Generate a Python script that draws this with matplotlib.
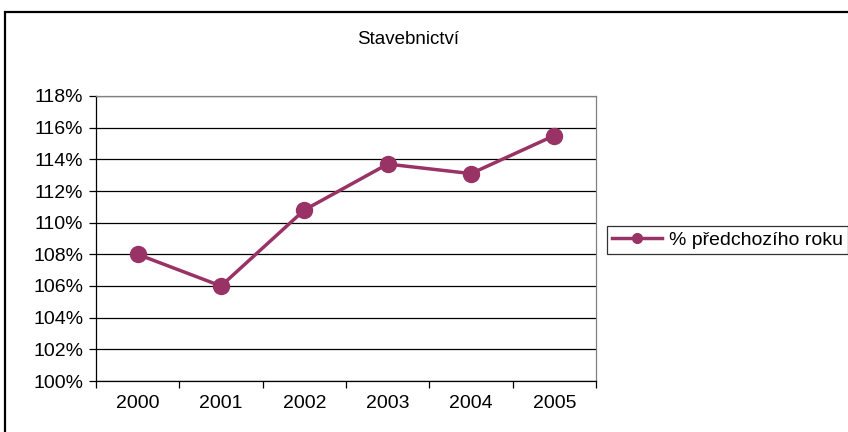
import matplotlib
matplotlib.use('Agg')
import matplotlib.pyplot as plt
from matplotlib.lines import Line2D
from matplotlib.patches import Rectangle

plt.rcParams['font.family'] = ['Liberation Sans', 'DejaVu Sans']

# data
years = ['2000', '2001', '2002', '2003', '2004', '2005']
values = [108.0, 106.0, 110.8, 113.7, 113.1, 115.5]
yticks = [100, 102, 104, 106, 108, 110, 112, 114, 116, 118]
title = 'Stavebnictví'
series_name = '% předchozího roku'

color = '#993366'
fs = 14

fig = plt.figure(figsize=(8.48, 4.32), dpi=100)
W, H = 848, 432

# outer chart border (right and bottom run off the picture)
fig.patches.append(Rectangle((5 / W, -0.2), 1.3, (H - 12) / H + 0.2,
                             transform=fig.transFigure, fill=False,
                             edgecolor='black', linewidth=1.6))

ax = fig.add_axes([96 / W, (H - 381) / H, 500 / W, 285 / H])
x = list(range(len(years)))
ax.plot(x, values, color=color, linewidth=2.5, marker='o', markersize=11.5,
        markeredgecolor=color, markerfacecolor=color, zorder=3)

ax.set_xlim(-0.5, len(years) - 0.5)
ax.set_ylim(100, 118)
ax.set_yticks(yticks)
ax.set_yticklabels([f'{v}%' for v in yticks], fontsize=fs)
ax.yaxis.grid(True, color='black', linewidth=0.9)
ax.set_axisbelow(True)

# category ticks at the boundaries, labels in the middle
ax.set_xticks([i - 0.5 for i in range(len(years) + 1)])
ax.set_xticklabels([])
ax.set_xticks(x, minor=True)
ax.set_xticklabels(years, minor=True, fontsize=fs)
ax.tick_params(axis='x', which='major', length=5, width=0.9, direction='out')
ax.tick_params(axis='x', which='minor', length=0, pad=10)
ax.tick_params(axis='y', length=5, width=0.9, direction='out', pad=4)

ax.spines['left'].set_color('black')
ax.spines['bottom'].set_color('black')
ax.spines['top'].set_color('#808080')
ax.spines['right'].set_color('#808080')
for s in ax.spines.values():
    s.set_linewidth(0.9)

fig.text(408 / W, 1 - 40 / H, title, ha='center', va='center', fontsize=13.5)

handle = Line2D([], [], color=color, linewidth=2.5, marker='o', markersize=7,
                markerfacecolor=color, markeredgecolor=color)
leg = fig.legend([handle], [series_name], loc='center left',
                 bbox_to_anchor=(607 / W, 1 - 240 / H), fontsize=fs,
                 frameon=True, fancybox=False, handlelength=2.6,
                 handletextpad=0.35, borderpad=0.25, borderaxespad=0)
leg.get_frame().set_edgecolor('black')
leg.get_frame().set_linewidth(0.9)

fig.savefig('out.png', dpi=100)
